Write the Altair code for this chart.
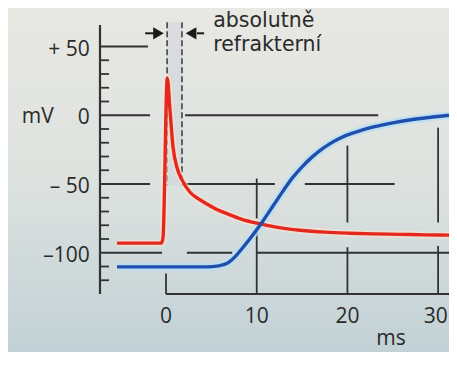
import altair as alt
import pandas as pd

# ---- scale extents (ms, mV) ----
TMIN, TMAX = -7.28, 31.2
VMIN, VMAX = -130, 65.64

# ---- curves ----
red_t = [-5.4, -0.5, -0.33, 0.14, 0.44, 0.77, 1.21, 1.76, 2.65, 3.5, 4.5, 5.6, 6.7,
         8.3, 10.0, 12.3, 14.8, 17.5, 20.3, 23.0, 25.8, 28.5, 31.2]
red_v = [-93, -93, -89, 27, 3.5, -23, -38, -47, -56, -60.5, -64.5, -68.5, -71.5,
         -75.5, -78.5, -81.5, -83.6, -85, -85.8, -86.3, -86.6, -87, -87.2]

blue_t = [-5.4, 4.5, 5.8, 6.8, 7.6, 8.5, 9.4, 10.36, 12.2, 14.0, 15.0, 16.0, 17.0,
          18.0, 19.0, 20.0, 21.5, 23.0, 25.0, 27.0, 29.0, 31.2]
blue_v = [-110.3, -110.3, -109.5, -107.5, -103, -96, -88.5, -80, -62, -45, -37.5,
          -31, -25.5, -21, -17.3, -14.3, -11, -8.3, -5.5, -3.3, -1.6, 0]

# ---- broken horizontal grid lines ----
hgrid_v = [50, 0, 0, -50, -50, -50, -100, -100, -100]
hgrid_t1 = [TMIN, TMIN, 2.1, TMIN, 2.1, 15.3, TMIN, 2.3, 10.0]
hgrid_t2 = [-1.98, -1.76, 23.4, -1.76, 12.0, 25.2, -0.44, 7.3, TMAX]

# ---- broken vertical grid lines ----
vgrid_t = [0, 10, 10, 20, 20, 30, 30]
vgrid_v1 = [-115, -46, -85, -22, -96, -9, -95]
vgrid_v2 = [-130, -75, -130, -78, -130, -78, -130]

# ---- axes ----
minor_v = [40, 30, 20, 10, -10, -20, -30, -40, -60, -70, -80, -90, -110, -120]
ylab_text = ["+ 50", "0", "\u2013 50", "\u2013100"]
ylab_v = [50, 0, -50, -100]
xlab_text = ["0", "10", "20", "30"]
xlab_t = [0, 10, 20, 29.75]

# ---- refractory band ----
band_t = [0.12, 1.76]
band_v = [67.6, -51]

annot_lines = ["absolutn\u011b", "refrakterní"]
annot_v = [64.19, 46.37]

xs = alt.Scale(domain=[TMIN, TMAX], nice=False, zero=False)
ys = alt.Scale(domain=[VMIN, VMAX], nice=False, zero=False)


def X(f):
    return alt.X(f, type="quantitative", scale=xs, axis=None)


def Y(f):
    return alt.Y(f, type="quantitative", scale=ys, axis=None)


INK = "#333333"
TXT = "#2a2a2a"
FONT = "Open Sans"
W, H = 349, 269
PADL, PADT, PADB = 92, 17, 58

grad = alt.Gradient(
    gradient="linear",
    stops=[alt.GradientStop(color="#e8e8e3", offset=0),
           alt.GradientStop(color="#dde2df", offset=0.5),
           alt.GradientStop(color="#c2d1d6", offset=1)],
    x1=0, x2=0, y1=0, y2=1,
)
bg = alt.Chart(pd.DataFrame({"a": [0]})).mark_rect(fill=grad).encode(
    x=alt.value(-PADL), x2=alt.value(W), y=alt.value(-PADT), y2=alt.value(H + PADB)
)

band = alt.Chart(pd.DataFrame({"t1": [band_t[0]], "t2": [band_t[1]],
                               "v1": [band_v[0]], "v2": [band_v[1]]})).mark_rect(
    fill="#cfd3d8", opacity=0.55).encode(x=X("t1"), x2="t2", y=Y("v1"), y2="v2")

hgrid = alt.Chart(pd.DataFrame({"t1": hgrid_t1, "t2": hgrid_t2, "v": hgrid_v})).mark_rule(
    color=INK, strokeWidth=1.8).encode(x=X("t1"), x2="t2", y=Y("v"))

vgrid = alt.Chart(pd.DataFrame({"t": vgrid_t, "v1": vgrid_v1, "v2": vgrid_v2})).mark_rule(
    color=INK, strokeWidth=1.8).encode(x=X("t"), y=Y("v1"), y2="v2")

yaxis = alt.Chart(pd.DataFrame({"t": [TMIN], "v1": [VMIN], "v2": [VMAX]})).mark_rule(
    color=INK, strokeWidth=2.2).encode(x=X("t"), y=Y("v1"), y2="v2")

xaxis = alt.Chart(pd.DataFrame({"t1": [0], "t2": [TMAX], "v": [VMIN]})).mark_rule(
    color=INK, strokeWidth=2.2).encode(x=X("t1"), x2="t2", y=Y("v"))

minor = alt.Chart(pd.DataFrame({"v": minor_v, "t1": [TMIN] * len(minor_v),
                                "t2": [TMIN + 1.0] * len(minor_v)})).mark_rule(
    color=INK, strokeWidth=1.8).encode(x=X("t1"), x2="t2", y=Y("v"))

dashed = alt.Chart(pd.DataFrame({"t": band_t, "v1": [band_v[0]] * 2,
                                 "v2": [band_v[1]] * 2})).mark_rule(
    color="#444444", strokeWidth=1.6, strokeDash=[6, 3]).encode(
    x=X("t"), y=Y("v1"), y2="v2")

red_df = pd.DataFrame({"t": red_t, "v": red_v})
blue_df = pd.DataFrame({"t": blue_t, "v": blue_v})

red_halo = alt.Chart(red_df).mark_line(interpolate="monotone", color="#fbe3d2",
                                       strokeWidth=7, opacity=0.6).encode(x=X("t"), y=Y("v"))
red_line = alt.Chart(red_df).mark_line(interpolate="monotone", color="#e4281c",
                                       strokeWidth=3.4).encode(x=X("t"), y=Y("v"))
blue_halo = alt.Chart(blue_df).mark_line(interpolate="monotone", color="#b9def3",
                                         strokeWidth=8, opacity=0.8).encode(x=X("t"), y=Y("v"))
blue_line = alt.Chart(blue_df).mark_line(interpolate="monotone", color="#1f4fae",
                                         strokeWidth=3.4).encode(x=X("t"), y=Y("v"))

# arrows pointing at the band
arrow_v = 59.6
shafts = alt.Chart(pd.DataFrame({"t1": [-2.3, 3.4], "t2": [-1.1, 4.2],
                                 "v": [arrow_v, arrow_v]})).mark_rule(
    color="#1a1a1a", strokeWidth=2).encode(x=X("t1"), x2="t2", y=Y("v"))
heads = alt.Chart(pd.DataFrame({"t": [-0.83, 2.76], "v": [arrow_v, arrow_v],
                                "shape": ["triangle-right", "triangle-left"]})).mark_point(
    filled=True, color="#1a1a1a", opacity=1, size=150).encode(
    x=X("t"), y=Y("v"), shape=alt.Shape("shape:N", scale=None))

ylabels = alt.Chart(pd.DataFrame({"t": [-8.4] * 4, "v": ylab_v, "s": ylab_text})).mark_text(
    align="right", baseline="middle", dy=3, font=FONT, fontSize=21, color=TXT).encode(
    x=X("t"), y=Y("v"), text="s:N")
mv = alt.Chart(pd.DataFrame({"t": [-15.9], "v": [0], "s": ["mV"]})).mark_text(
    align="left", baseline="middle", dy=2, font=FONT, fontSize=21, color=TXT).encode(
    x=X("t"), y=Y("v"), text="s:N")
xlabels = alt.Chart(pd.DataFrame({"t": xlab_t, "v": [-147] * 4, "s": xlab_text})).mark_text(
    align="center", baseline="middle", font=FONT, fontSize=21, color=TXT).encode(
    x=X("t"), y=Y("v"), text="s:N")
ms = alt.Chart(pd.DataFrame({"t": [24.8], "v": [-162.5], "s": ["ms"]})).mark_text(
    align="center", baseline="middle", font=FONT, fontSize=21, color=TXT).encode(
    x=X("t"), y=Y("v"), text="s:N")
annot = alt.Chart(pd.DataFrame({"t": [5.2, 5.2], "v": annot_v, "s": annot_lines})).mark_text(
    align="left", baseline="alphabetic", font="DejaVu Sans", fontSize=20.5, color=TXT).encode(
    x=X("t"), y=Y("v"), text="s:N")

chart = alt.layer(
    bg, band, hgrid, vgrid, minor, yaxis, xaxis, dashed,
    red_halo, blue_halo, red_line, blue_line,
    shafts, heads, ylabels, mv, xlabels, ms, annot,
).properties(
    width=W, height=H,
    autosize=alt.AutoSizeParams(type="none"),
    padding={"left": PADL, "top": PADT, "right": 0, "bottom": PADB},
    background="#d8dedd",
).configure_view(strokeWidth=0)

chart.save("out.html", embed_options={"renderer": "svg", "actions": False})
